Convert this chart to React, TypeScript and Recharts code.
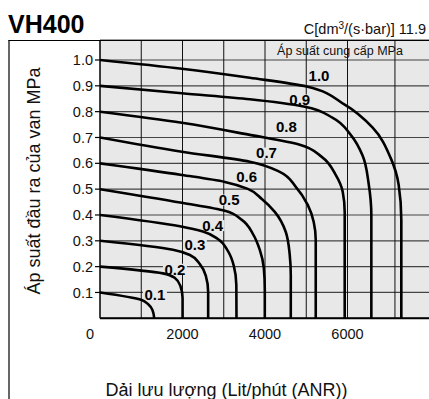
import React from 'react';
import { ComposedChart, Line, XAxis, YAxis, CartesianGrid, ReferenceLine, Scatter } from 'recharts';

const FONT = '"Liberation Sans", Arial, Helvetica, sans-serif';

// Outlet pressure (MPa) vs flow (L/min ANR) for each supply pressure
const curve01: number[][] = [[0, 0.1], [1010, 0.071], [1162, 0.055], [1271, 0.032], [1315, 0]];
const curve02: number[][] = [[0, 0.2], [1525, 0.174], [1816, 0.156], [1949, 0.125], [2002, 0.079], [2002, 0]];
const curve03: number[][] = [[0, 0.3], [1768, 0.265], [2179, 0.245], [2421, 0.21], [2566, 0.164], [2622, 0.102], [2622, 0]];
const curve04: number[][] = [[0, 0.4], [1937, 0.356], [2494, 0.336], [2857, 0.307], [3099, 0.261], [3244, 0.203], [3305, 0.129], [3309, 0]];
const curve05: number[][] = [[0, 0.5], [1985, 0.447], [3027, 0.416], [3438, 0.381], [3705, 0.327], [3874, 0.265], [3971, 0.195], [3995, 0.11], [3995, 0]];
const curve06: number[][] = [[0, 0.6], [1985, 0.555], [3027, 0.528], [3583, 0.501], [3923, 0.462], [4237, 0.412], [4504, 0.334], [4600, 0.245], [4625, 0.168], [4625, 0]];
const curve07: number[][] = [[0, 0.7], [1985, 0.645], [3632, 0.606], [4358, 0.567], [4746, 0.509], [5036, 0.439], [5181, 0.373], [5230, 0.303], [5230, 0]];
const curve08: number[][] = [[0, 0.8], [1985, 0.757], [3632, 0.71], [4843, 0.672], [5375, 0.625], [5714, 0.555], [5884, 0.49], [5932, 0.412], [5932, 0]];
const curve09: number[][] = [[0, 0.9], [1985, 0.871], [3632, 0.848], [4964, 0.819], [5642, 0.776], [6078, 0.71], [6368, 0.629], [6513, 0.521], [6578, 0.4], [6578, 0]];
const curve10: number[][] = [[0, 1.0], [1985, 0.966], [3632, 0.931], [5012, 0.897], [5932, 0.827], [6610, 0.738], [7046, 0.621], [7240, 0.517], [7305, 0.381], [7305, 0]];

const curves = [curve01, curve02, curve03, curve04, curve05, curve06, curve07, curve08, curve09, curve10];

// Curve labels (supply pressure)
const labelText = ['0.1', '0.2', '0.3', '0.4', '0.5', '0.6', '0.7', '0.8', '0.9', '1.0'];
const labelFlow = [1332, 1816, 2300, 2729, 3131, 3553, 4036, 4520, 4843, 5310];
const labelPressure = [0.093, 0.19, 0.284, 0.359, 0.458, 0.548, 0.64, 0.743, 0.845, 0.939];

// Axes
const xTicks = [0, 2000, 4000, 6000];
const xGrid = [1000, 2000, 3000, 4000, 5000, 6000, 7150];
const yTicks = [0.1, 0.2, 0.3, 0.4, 0.5, 0.6, 0.7, 0.8, 0.9, 1.0];

const labelData = labelText.map((t, i) => ({ x: labelFlow[i], y: labelPressure[i], t }));

const XTick = (props: any) => {
  const { x, y, payload } = props;
  return (
    <text x={x + (payload.value === 0 ? -10 : 0)} y={y} dy="0.71em" textAnchor="middle"
      fontSize={14.5} fill="#111" fontFamily={FONT}>
      {payload.value}
    </text>
  );
};

const LabelShape = (p: any) => (
  <g>
    <rect x={p.cx - 12} y={p.cy - 5.5} width={24} height={11} fill="#e8e8e8" />
    <text x={p.cx} y={p.cy} dy="0.36em" textAnchor="middle" fontWeight="bold" fontSize={15}
      fill="#000" fontFamily={FONT}>{p.payload.t}</text>
  </g>
);

export default function App() {
  return (
    <div style={{ position: 'absolute', left: 0, top: 0, width: 429, height: 399, overflow: 'hidden', background: '#fff' }}>
      <ComposedChart width={430} height={399} margin={{ top: 40, right: 0, left: 0, bottom: 0 }}>
        <CartesianGrid vertical={false} stroke="#444" strokeWidth={1.2} fill="#e8e8e8" fillOpacity={1} />
        <XAxis dataKey="x" type="number" domain={[0, 8000]} ticks={xTicks} interval={0} allowDataOverflow
          height={80.7} tickSize={0} tickMargin={10} tickLine={false} tick={<XTick />}
          axisLine={{ stroke: '#000', strokeWidth: 2 }} />
        <YAxis type="number" domain={[0, 1.0774]} ticks={yTicks} interval={0} allowDataOverflow width={100}
          tickSize={5} tickMargin={2} tickFormatter={(v: number) => v.toFixed(1)}
          tick={{ fontSize: 14.5, fill: '#111', fontFamily: FONT }}
          tickLine={{ stroke: '#000', strokeWidth: 1.2 }} axisLine={{ stroke: '#000', strokeWidth: 1.5 }} />
        {xGrid.map((v) => (
          <ReferenceLine key={v} x={v} stroke="#111" strokeWidth={1} zIndex={-50} />
        ))}
        <Scatter data={labelData} dataKey="y" isAnimationActive={false} shape={<LabelShape />} zIndex={350} />
        {curves.map((c, i) => (
          <Line key={i} data={c.map(([x, y]) => ({ x, y }))} dataKey="y" type="monotoneY"
            stroke="#000" strokeWidth={2.6} dot={false} activeDot={false} isAnimationActive={false} />
        ))}
      </ComposedChart>
      <svg width={429} height={399} style={{ position: 'absolute', left: 0, top: 0, pointerEvents: 'none' }}>
        <line x1={8.5} y1={40.5} x2={429} y2={40.5} stroke="#000" strokeWidth={1.2} />
        <line x1={9} y1={40} x2={9} y2={399} stroke="#000" strokeWidth={1.2} />
        <text x={8} y={33} fontSize={25} fontWeight="bold" fill="#000" fontFamily={FONT}>VH400</text>
        <text x={426} y={34} fontSize={14.5} textAnchor="end" fill="#111" fontFamily={FONT}>
          C[dm<tspan dy={-5} fontSize={10}>3</tspan><tspan dy={5}>/(s·bar)] 11.9</tspan>
        </text>
        <text x={340} y={55} fontSize={12.5} textAnchor="middle" fill="#111" fontFamily={FONT}>Áp suất cung cấp MPa</text>
        <text transform="translate(40,181) rotate(-90)" fontSize={18} textAnchor="middle" fill="#111" fontFamily={FONT}>
          Áp suất đầu ra của van MPa
        </text>
        <text x={226.5} y={396} fontSize={18} textAnchor="middle" fill="#111" fontFamily={FONT}>
          Dải lưu lượng (Lit/phút (ANR))
        </text>
      </svg>
    </div>
  );
}
